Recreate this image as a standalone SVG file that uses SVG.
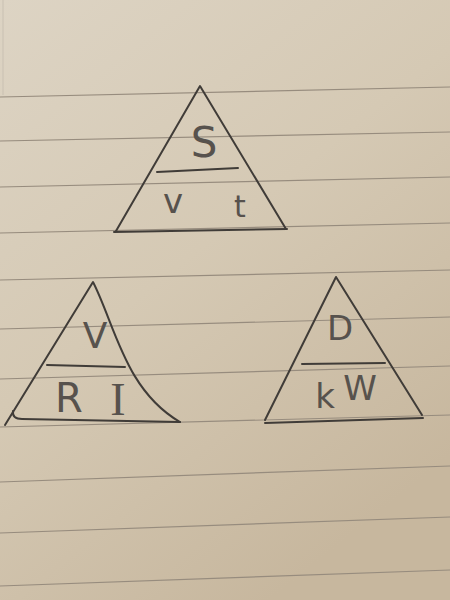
<svg xmlns="http://www.w3.org/2000/svg" width="450" height="600" viewBox="0 0 450 600">
  <defs>
    <linearGradient id="paper" x1="0" y1="0" x2="0.6" y2="1">
      <stop offset="0" stop-color="#ddd4c4"/>
      <stop offset="0.5" stop-color="#d5c9b4"/>
      <stop offset="1" stop-color="#c7b79e"/>
    </linearGradient>
    <style>
      .rule { stroke: #978c7e; stroke-width: 1.2; fill: none; }
      .pen { stroke: #403c38; stroke-width: 2; fill: none; stroke-linecap: round; stroke-linejoin: round; }
      .txt { font-family: "DejaVu Sans", "Liberation Sans", sans-serif; fill: #57524d; text-anchor: middle; }
      .serif { font-family: "Liberation Serif", serif; }
    </style>
  </defs>
  <rect x="0" y="0" width="450" height="600" fill="url(#paper)"/>
  <line x1="3" y1="0" x2="3" y2="95" stroke="#c9c0b2" stroke-width="1"/>
  <g id="ruled-lines">
    <line class="rule" x1="0" y1="97" x2="450" y2="87"/>
    <line class="rule" x1="0" y1="141" x2="450" y2="132"/>
    <line class="rule" x1="0" y1="187" x2="450" y2="177"/>
    <line class="rule" x1="0" y1="233" x2="450" y2="223"/>
    <line class="rule" x1="0" y1="280" x2="450" y2="270"/>
    <line class="rule" x1="0" y1="329" x2="450" y2="317"/>
    <line class="rule" x1="0" y1="379" x2="450" y2="366"/>
    <line class="rule" x1="0" y1="427" x2="450" y2="415"/>
    <line class="rule" x1="0" y1="482" x2="450" y2="466"/>
    <line class="rule" x1="0" y1="533" x2="450" y2="517"/>
    <line class="rule" x1="0" y1="586" x2="450" y2="570"/>
  </g>
  <g id="triangle-svt">
    <path class="pen" d="M116,231 L200,86 L286,229"/>
    <path class="pen" d="M114,232 L287,229" stroke-width="3.5"/>
    <path class="pen" d="M157,172 L238,168"/>
    <text class="txt" x="204" y="157" font-size="42">S</text>
    <text class="txt" x="173" y="213" font-size="34">v</text>
    <text class="txt" x="240" y="217" font-size="30">t</text>
  </g>
  <g id="triangle-vri">
    <path class="pen" d="M5,425 L93,282 C115,325 125,390 180,422"/>
    <path class="pen" d="M13,411 Q12,419 22,419 L180,422"/>
    <path class="pen" d="M47,365 L125,367"/>
    <text class="txt" x="95" y="348" font-size="36">V</text>
    <text class="txt" x="69" y="412" font-size="40">R</text>
    <text class="txt serif" x="118" y="415" font-size="46">I</text>
  </g>
  <g id="triangle-dkw">
    <path class="pen" d="M265,420 L336,277 L422,415"/>
    <path class="pen" d="M265,423 L423,418"/>
    <path class="pen" d="M302,364 L385,363"/>
    <text class="txt" x="340" y="340" font-size="34">D</text>
    <text class="txt" x="325" y="408" font-size="34">k</text>
    <text class="txt" x="360" y="400" font-size="34">W</text>
  </g>
</svg>
